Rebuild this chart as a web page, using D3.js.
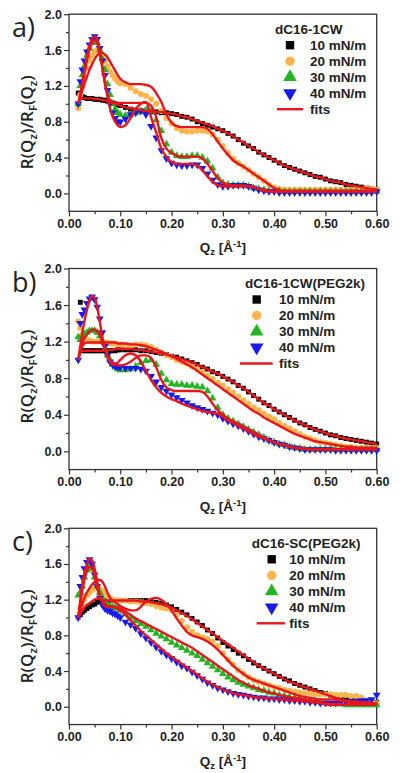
<!DOCTYPE html>
<html><head><meta charset="utf-8">
<script src="https://cdn.jsdelivr.net/npm/d3@7"></script>
<style>
html,body{margin:0;padding:0;background:#fff;}
svg{display:block;}
</style></head>
<body>
<svg id="chart" width="400" height="773"></svg>
<script>
// ---------- DATA ----------
const qz = [0.018,0.022,0.026,0.030,0.035,0.040,0.045,0.050,0.055,0.060,0.065,0.070,0.075,0.080,0.085,0.090,0.095,
  0.10,0.11,0.12,0.13,0.14,0.15,0.16,0.17,0.18,0.19,
  0.20,0.21,0.22,0.23,0.24,0.25,0.26,0.27,0.28,0.29,
  0.30,0.31,0.32,0.33,0.34,0.35,0.36,0.37,0.38,0.39,
  0.40,0.41,0.42,0.43,0.44,0.45,0.46,0.47,0.48,0.49,
  0.50,0.51,0.52,0.53,0.54,0.55,0.56,0.57,0.58,0.59,0.60];

const seriesNames = ["10 mN/m","20 mN/m","30 mN/m","40 mN/m"];
const fitName = "fits";
const panelLabels = ["a)","b)","c)"];
const panelTitles = ["dC16-1CW","dC16-1CW(PEG2k)","dC16-SC(PEG2k)"];
const xTicks = [0,0.1,0.2,0.3,0.4,0.5,0.6];
const yTicks = [0,0.4,0.8,1.2,1.6,2.0];

// panel a) dC16-1CW
const a10 = [1.12,1.10,1.08,1.07,1.06,1.06,1.06,1.05,1.05,1.05,1.04,1.04,1.03,1.02,1.01,1.00,0.99,
  0.98,0.96,0.94,0.93,0.92,0.92,0.91,0.91,0.90,0.90,
  0.89,0.88,0.86,0.85,0.83,0.80,0.78,0.76,0.74,0.72,
  0.70,0.67,0.64,0.60,0.56,0.53,0.50,0.46,0.43,0.40,
  0.37,0.34,0.31,0.29,0.27,0.25,0.23,0.21,0.19,0.18,
  0.16,0.14,0.13,0.12,0.10,0.09,0.08,0.07,0.06,0.05,0.045];
const a10fit = [1.00,1.05,1.06,1.06,1.06,1.06,1.06,1.05,1.05,1.05,1.04,1.04,1.03,1.02,1.01,1.00,0.99,
  0.98,0.96,0.95,0.94,0.93,0.92,0.92,0.91,0.91,0.90,
  0.89,0.88,0.86,0.85,0.83,0.81,0.79,0.77,0.75,0.72,
  0.70,0.67,0.64,0.60,0.57,0.53,0.50,0.46,0.43,0.40,
  0.37,0.34,0.31,0.29,0.27,0.25,0.23,0.21,0.19,0.18,
  0.16,0.14,0.13,0.12,0.10,0.09,0.08,0.07,0.06,0.05,0.045];
const a20 = [0.95,1.10,1.20,1.30,1.40,1.48,1.54,1.58,1.60,1.58,1.54,1.48,1.42,1.36,1.32,1.28,1.25,
  1.23,1.22,1.18,1.14,1.11,1.09,1.05,1.00,0.92,0.84,
  0.78,0.73,0.70,0.69,0.69,0.70,0.70,0.69,0.66,0.60,
  0.53,0.45,0.39,0.34,0.30,0.26,0.22,0.18,0.14,0.10,
  0.07,0.05,0.04,0.04,0.04,0.04,0.04,0.04,0.04,0.04,
  0.04,0.04,0.04,0.04,0.04,0.04,0.05,0.05,0.06,0.05,0.04];
const a20fit = [1.00,1.08,1.15,1.22,1.30,1.38,1.44,1.50,1.54,1.56,1.57,1.55,1.52,1.47,1.42,1.37,1.32,
  1.28,1.24,1.22,1.22,1.22,1.21,1.19,1.12,1.02,0.88,
  0.79,0.75,0.74,0.74,0.74,0.74,0.74,0.72,0.66,0.58,
  0.50,0.43,0.37,0.33,0.30,0.26,0.22,0.18,0.14,0.10,
  0.06,0.04,0.03,0.03,0.03,0.03,0.03,0.03,0.03,0.03,
  0.03,0.03,0.03,0.03,0.03,0.03,0.03,0.03,0.03,0.03,0.03];
const a30 = [1.00,1.20,1.32,1.42,1.54,1.62,1.68,1.70,1.68,1.60,1.50,1.38,1.22,1.10,1.00,0.94,0.90,
  0.88,0.87,0.88,0.90,0.92,0.93,0.92,0.82,0.70,0.55,
  0.46,0.42,0.41,0.41,0.42,0.42,0.40,0.36,0.28,0.18,
  0.12,0.10,0.09,0.09,0.09,0.08,0.06,0.05,0.04,0.03,
  0.03,0.03,0.02,0.02,0.02,0.02,0.02,0.02,0.02,0.02,
  0.02,0.02,0.02,0.02,0.02,0.02,0.02,0.02,0.02,0.02,0.02];
const a30fit = [1.00,1.10,1.22,1.33,1.48,1.60,1.68,1.71,1.68,1.56,1.40,1.22,1.10,1.04,1.02,1.01,1.01,
  1.01,1.01,1.01,1.01,1.01,1.01,0.98,0.85,0.62,0.50,
  0.45,0.42,0.41,0.41,0.41,0.41,0.39,0.33,0.25,0.17,
  0.12,0.10,0.09,0.09,0.09,0.08,0.07,0.05,0.04,0.03,
  0.02,0.02,0.02,0.02,0.02,0.02,0.02,0.02,0.02,0.02,
  0.02,0.02,0.02,0.02,0.02,0.02,0.02,0.02,0.02,0.02,0.02];
const a40 = [1.00,1.25,1.38,1.48,1.58,1.66,1.72,1.75,1.72,1.62,1.48,1.32,1.15,1.00,0.90,0.84,0.80,
  0.80,0.83,0.88,0.90,0.92,0.88,0.75,0.62,0.48,0.39,
  0.34,0.32,0.31,0.31,0.32,0.32,0.28,0.22,0.15,0.10,
  0.08,0.08,0.09,0.09,0.09,0.08,0.06,0.04,0.03,0.02,
  0.02,0.01,0.01,0.01,0.01,0.01,0.01,0.01,0.01,0.01,
  0.01,0.01,0.01,0.01,0.01,0.01,0.01,0.01,0.01,0.01,0.02];
const a40fit = [1.00,1.10,1.25,1.38,1.53,1.65,1.73,1.75,1.72,1.60,1.42,1.25,1.08,0.95,0.86,0.80,0.76,
  0.74,0.76,0.84,0.94,1.00,1.02,0.85,0.68,0.50,0.41,
  0.35,0.33,0.33,0.33,0.33,0.31,0.26,0.19,0.13,0.09,
  0.08,0.08,0.08,0.08,0.08,0.08,0.07,0.05,0.03,0.02,
  0.02,0.02,0.02,0.02,0.02,0.02,0.02,0.02,0.02,0.02,
  0.02,0.02,0.02,0.02,0.02,0.02,0.02,0.02,0.02,0.02,0.02];

// panel b) dC16-1CW(PEG2k)
const b10 = [null,1.63,1.10,1.10,1.10,1.10,1.10,1.10,1.10,1.10,1.10,1.10,1.10,1.10,1.10,1.10,1.11,
  1.11,1.11,1.11,1.11,1.10,1.10,1.09,1.08,1.07,1.06,
  1.04,1.03,1.01,0.99,0.97,0.95,0.92,0.90,0.87,0.85,
  0.82,0.79,0.76,0.72,0.69,0.65,0.61,0.57,0.53,0.50,
  0.46,0.43,0.40,0.37,0.34,0.31,0.29,0.26,0.24,0.22,
  0.20,0.18,0.17,0.15,0.14,0.13,0.12,0.11,0.10,0.09,0.08];
const b10fit = [1.00,1.08,1.10,1.10,1.10,1.10,1.10,1.10,1.10,1.10,1.10,1.10,1.11,1.11,1.11,1.12,1.12,
  1.12,1.12,1.12,1.11,1.11,1.10,1.09,1.08,1.07,1.06,
  1.04,1.03,1.01,0.99,0.97,0.95,0.92,0.90,0.87,0.85,
  0.82,0.79,0.76,0.72,0.69,0.65,0.61,0.57,0.53,0.50,
  0.46,0.43,0.40,0.37,0.34,0.31,0.29,0.26,0.24,0.22,
  0.20,0.18,0.17,0.15,0.14,0.13,0.12,0.11,0.10,0.09,0.08];
const b20 = [1.42,1.35,1.28,1.25,1.22,1.21,1.20,1.20,1.20,1.20,1.20,1.19,1.19,1.18,1.18,1.18,1.17,
  1.17,1.16,1.16,1.17,1.17,1.16,1.14,1.11,1.08,1.05,
  1.03,1.00,0.98,0.96,0.93,0.90,0.87,0.83,0.79,0.75,
  0.72,0.68,0.64,0.60,0.56,0.52,0.48,0.45,0.41,0.38,
  0.35,0.31,0.28,0.25,0.22,0.19,0.16,0.14,0.12,0.10,
  0.09,0.08,0.07,0.06,0.05,0.05,0.04,0.04,0.04,0.04,0.04];
const b20fit = [1.00,1.10,1.15,1.18,1.19,1.19,1.19,1.19,1.19,1.19,1.19,1.19,1.19,1.19,1.19,1.19,1.18,
  1.18,1.18,1.17,1.17,1.16,1.15,1.13,1.11,1.09,1.06,
  1.04,1.01,0.98,0.95,0.92,0.88,0.84,0.80,0.76,0.72,
  0.68,0.64,0.60,0.56,0.52,0.48,0.44,0.41,0.37,0.34,
  0.31,0.28,0.25,0.22,0.19,0.17,0.15,0.13,0.11,0.10,
  0.09,0.08,0.07,0.06,0.05,0.05,0.04,0.04,0.04,0.04,0.04];
const b30 = [1.25,1.22,1.25,1.28,1.30,1.32,1.32,1.32,1.30,1.26,1.20,1.12,1.05,1.00,0.95,0.92,0.90,
  0.89,0.89,0.90,0.93,0.97,0.99,1.00,0.95,0.85,0.78,
  0.74,0.73,0.73,0.72,0.72,0.71,0.70,0.66,0.58,0.48,
  0.40,0.36,0.33,0.30,0.27,0.24,0.21,0.18,0.15,0.12,
  0.10,0.08,0.07,0.05,0.04,0.03,0.02,0.02,0.02,0.02,
  0.02,0.02,0.02,0.02,0.02,0.02,0.02,0.02,0.02,0.02,0.02];
const b30fit = [1.00,1.10,1.18,1.24,1.28,1.31,1.33,1.33,1.31,1.27,1.20,1.12,1.05,1.00,0.97,0.95,0.94,
  0.94,0.95,0.98,1.02,1.05,1.05,1.02,0.92,0.78,0.70,
  0.67,0.66,0.66,0.66,0.66,0.66,0.65,0.60,0.52,0.45,
  0.40,0.36,0.33,0.30,0.27,0.24,0.21,0.18,0.15,0.12,
  0.10,0.08,0.07,0.05,0.04,0.03,0.03,0.02,0.02,0.02,
  0.02,0.02,0.02,0.02,0.02,0.02,0.02,0.02,0.02,0.02,0.02];
const b40 = [1.00,1.40,1.50,1.55,1.62,1.67,1.69,1.66,1.58,1.45,1.30,1.15,1.05,0.98,0.95,0.93,0.92,
  0.92,0.91,0.91,0.91,0.90,0.88,0.82,0.76,0.70,0.66,
  0.62,0.59,0.56,0.53,0.50,0.48,0.46,0.44,0.42,0.40,
  0.36,0.33,0.30,0.28,0.25,0.22,0.19,0.16,0.14,0.12,
  0.10,0.08,0.07,0.05,0.04,0.03,0.02,0.02,0.02,0.02,
  0.02,0.02,0.01,0.01,0.01,0.01,0.01,0.01,0.01,0.01,0.01];
const b40fit = [1.00,1.15,1.30,1.42,1.55,1.65,1.70,1.68,1.58,1.42,1.25,1.12,1.03,0.98,0.95,0.95,0.97,
  1.00,1.05,1.07,1.05,0.98,0.88,0.78,0.70,0.64,0.60,
  0.57,0.55,0.52,0.50,0.48,0.46,0.44,0.43,0.42,0.41,
  0.38,0.34,0.31,0.28,0.25,0.22,0.19,0.16,0.14,0.12,
  0.10,0.08,0.07,0.05,0.04,0.03,0.03,0.02,0.02,0.02,
  0.02,0.02,0.02,0.02,0.02,0.02,0.02,0.02,0.02,0.02,0.02];

// panel c) dC16-SC(PEG2k)
const c10 = [1.00,1.03,1.06,1.08,1.10,1.12,1.14,1.15,1.17,1.18,1.19,1.19,1.19,1.19,1.19,1.19,1.19,
  1.19,1.19,1.19,1.19,1.19,1.19,1.18,1.17,1.16,1.14,
  1.12,1.09,1.06,1.03,0.99,0.95,0.91,0.86,0.82,0.77,
  0.72,0.68,0.64,0.60,0.57,0.53,0.49,0.46,0.43,0.40,
  0.37,0.34,0.31,0.29,0.26,0.24,0.22,0.20,0.18,0.16,
  0.15,0.13,0.12,0.10,0.09,0.08,0.07,0.06,0.06,0.05,0.05];
const c10fit = [1.00,1.04,1.08,1.11,1.14,1.16,1.18,1.20,1.21,1.21,1.20,1.19,1.19,1.19,1.19,1.19,1.19,
  1.19,1.19,1.19,1.19,1.18,1.18,1.17,1.16,1.15,1.13,
  1.11,1.08,1.05,1.02,0.98,0.94,0.90,0.86,0.82,0.78,
  0.74,0.70,0.66,0.62,0.58,0.54,0.50,0.46,0.43,0.40,
  0.37,0.34,0.31,0.28,0.26,0.24,0.22,0.20,0.18,0.16,
  0.14,0.12,0.10,0.08,0.06,0.05,0.04,0.03,0.03,0.03,0.03];
const c20 = [1.00,1.10,1.15,1.20,1.25,1.28,1.31,1.33,1.33,1.32,1.30,1.27,1.24,1.22,1.20,1.19,1.19,
  1.19,1.19,1.18,1.18,1.17,1.16,1.15,1.13,1.11,1.10,
  1.08,1.03,0.96,0.89,0.84,0.80,0.78,0.76,0.73,0.68,
  0.60,0.53,0.47,0.41,0.37,0.33,0.30,0.28,0.26,0.24,
  0.22,0.21,0.19,0.18,0.17,0.16,0.15,0.15,0.14,0.14,
  0.14,0.14,0.13,0.13,0.13,0.12,0.12,0.10,0.07,0.05,0.04];
const c20fit = [1.00,1.08,1.15,1.22,1.28,1.33,1.37,1.40,1.42,1.42,1.40,1.35,1.28,1.22,1.19,1.17,1.15,
  1.13,1.10,1.08,1.08,1.12,1.18,1.21,1.22,1.20,1.15,
  1.08,0.99,0.91,0.84,0.80,0.78,0.76,0.73,0.69,0.64,
  0.58,0.52,0.46,0.41,0.37,0.33,0.30,0.28,0.26,0.24,
  0.22,0.20,0.18,0.16,0.14,0.12,0.11,0.10,0.09,0.08,
  0.08,0.08,0.08,0.07,0.07,0.06,0.06,0.05,0.05,0.04,0.04];
const c30 = [1.25,1.28,1.35,1.45,1.53,1.57,1.55,1.45,1.35,1.28,1.22,1.18,1.15,1.13,1.12,1.11,1.10,
  1.08,1.04,1.00,0.96,0.93,0.90,0.86,0.82,0.79,0.76,
  0.72,0.69,0.66,0.63,0.60,0.57,0.53,0.49,0.45,0.41,
  0.37,0.33,0.30,0.27,0.25,0.23,0.21,0.19,0.18,0.16,
  0.15,0.13,0.12,0.11,0.10,0.09,0.08,0.07,0.06,0.05,
  0.04,0.03,0.03,0.03,0.02,0.02,0.02,0.02,0.02,0.02,0.02];
const c30fit = [1.00,1.15,1.30,1.42,1.52,1.57,1.55,1.45,1.33,1.24,1.18,1.15,1.13,1.12,1.12,1.12,1.11,
  1.10,1.07,1.03,0.99,0.96,0.93,0.90,0.87,0.84,0.81,
  0.78,0.75,0.72,0.69,0.66,0.62,0.58,0.54,0.50,0.46,
  0.42,0.38,0.34,0.30,0.27,0.24,0.22,0.20,0.18,0.16,
  0.15,0.13,0.12,0.11,0.10,0.09,0.08,0.07,0.06,0.05,
  0.04,0.03,0.03,0.03,0.02,0.02,0.02,0.02,0.02,0.02,0.02];
const c40 = [1.00,1.35,1.45,1.55,1.62,1.65,1.60,1.48,1.35,1.22,1.14,1.10,1.08,1.07,1.05,1.04,1.02,
  1.00,0.95,0.92,0.88,0.82,0.77,0.72,0.67,0.62,0.58,
  0.54,0.50,0.46,0.43,0.39,0.35,0.31,0.27,0.24,0.21,
  0.19,0.17,0.15,0.14,0.13,0.12,0.11,0.10,0.10,0.09,
  0.09,0.08,0.08,0.07,0.07,0.06,0.06,0.05,0.05,0.04,
  0.04,0.04,0.04,0.05,0.05,0.06,0.06,0.07,0.07,0.08,0.13];
const c40fit = [1.00,1.20,1.38,1.50,1.60,1.66,1.64,1.55,1.40,1.25,1.17,1.13,1.12,1.12,1.12,1.11,1.10,
  1.08,1.03,0.97,0.91,0.85,0.80,0.75,0.70,0.65,0.60,
  0.56,0.52,0.48,0.44,0.40,0.36,0.32,0.28,0.25,0.22,
  0.19,0.17,0.15,0.14,0.13,0.12,0.11,0.10,0.10,0.09,
  0.09,0.08,0.08,0.07,0.07,0.06,0.06,0.05,0.05,0.04,
  0.03,0.02,0.02,0.02,0.02,0.03,0.03,0.03,0.04,0.04,0.04];

const panelData = [
  {data:[a10,a20,a30,a40], fits:[a10fit,a20fit,a30fit,a40fit]},
  {data:[b10,b20,b30,b40], fits:[b10fit,b20fit,b30fit,b40fit]},
  {data:[c10,c20,c30,c40], fits:[c10fit,c20fit,c30fit,c40fit]}
];

// ---------- STYLE / LAYOUT ----------
const colors = ["#000000","#fbb54c","#22b422","#1a1aeb"];
const fitColor = "#e8161c";
const shapes = [d3.symbolSquare, d3.symbolCircle, d3.symbolTriangle, d3.symbolTriangle];
const rotations = [0,0,0,180];
const markerSizes = [24,28,26,26];
const legendSizes = [70,70,80,80];

const left = 69, right = 376.7;
const layouts = [
  {top:14.2, zero:193.4, legX:{title:275, sym:290, text:310, line:[277,303]}},
  {top:268.5, zero:451.3, legX:{title:245, sym:256.7, text:279, line:[240,272.7]}},
  {top:528.3, zero:706.7, legX:{title:251.7, sym:271.7, text:289.3, line:[256.7,285]}}
];

const svg = d3.select("#chart");
const axisColor = "#333";
const boldFont = "'Liberation Sans', Arial, sans-serif";

layouts.forEach((L, pi) => {
  const y = d3.scaleLinear().domain([0,2.0]).range([L.zero, L.top]);
  const bottom = y(-0.2);
  const x = d3.scaleLinear().domain([0,0.6]).range([left,right]);
  const g = svg.append("g");

  // frame
  g.append("rect").attr("x",left).attr("y",L.top).attr("width",right-left).attr("height",bottom-L.top)
    .attr("fill","none").attr("stroke",axisColor).attr("stroke-width",1.3);

  // axes
  const xAxis = d3.axisBottom(x).tickValues(xTicks).tickFormat(d3.format(".2f")).tickSize(5).tickPadding(3);
  const xMinor = d3.axisBottom(x).tickValues([0.05,0.15,0.25,0.35,0.45,0.55]).tickFormat("").tickSize(3);
  const yAxis = d3.axisLeft(y).tickValues(yTicks).tickFormat(d3.format(".1f")).tickSize(5).tickPadding(2);
  const yMinor = d3.axisLeft(y).tickValues([0.2,0.6,1.0,1.4,1.8]).tickFormat("").tickSize(3);
  [[xAxis,"x"],[xMinor,"x"],[yAxis,"y"],[yMinor,"y"]].forEach(([ax,t]) => {
    const a = g.append("g").attr("transform", t==="x" ? `translate(0,${bottom})` : `translate(${left},0)`).call(ax);
    a.select(".domain").remove();
    a.selectAll("line").attr("stroke",axisColor).attr("stroke-width",1.2);
    a.selectAll("text").attr("font-family",boldFont).attr("font-weight","bold").attr("font-size",12.5).attr("fill","#222");
  });

  // markers
  const pd = panelData[pi];
  pd.data.forEach((vals, si) => {
    const sym = d3.symbol().type(shapes[si]).size(markerSizes[si]);
    const pts = qz.map((q,i)=>[q, vals[i]]).filter(d => d[1] != null);
    g.append("g").selectAll("path").data(pts).join("path")
      .attr("d", sym)
      .attr("transform", d => `translate(${x(d[0])},${y(d[1])}) rotate(${rotations[si]})`)
      .attr("fill", colors[si]);
  });

  // fits
  const line = d3.line().defined(d => d[1] != null).x(d => x(d[0])).y(d => y(d[1])).curve(d3.curveMonotoneX);
  pd.fits.forEach(vals => {
    g.append("path").datum(qz.map((q,i)=>[q, vals[i]]))
      .attr("d", line).attr("fill","none").attr("stroke",fitColor).attr("stroke-width",2.4)
      .attr("stroke-linejoin","round");
  });

  // panel label
  g.append("text").attr("x",12).attr("y",L.top+23).text(panelLabels[pi])
    .attr("font-family","'Open Sans', sans-serif").attr("font-size",27).attr("fill","#222");

  // y title
  const yt = g.append("text").attr("transform",`translate(33,${L.top+108}) rotate(-90)`)
    .attr("text-anchor","middle").attr("font-family","'Open Sans', sans-serif").attr("font-size",17)
    .attr("font-weight",600).attr("fill","#222");
  yt.append("tspan").text("R(Q");
  yt.append("tspan").text("z").attr("font-size",11.5).attr("dy",4);
  yt.append("tspan").text(")/R").attr("dy",-4);
  yt.append("tspan").text("F").attr("font-size",11.5).attr("dy",4);
  yt.append("tspan").text("(Q").attr("dy",-4);
  yt.append("tspan").text("z").attr("font-size",11.5).attr("dy",4);
  yt.append("tspan").text(")").attr("dy",-4);

  // x title
  const xt = g.append("text").attr("x",(left+right)/2).attr("y",bottom+41)
    .attr("text-anchor","middle").attr("font-family",boldFont).attr("font-weight","bold").attr("font-size",13.5).attr("fill","#222");
  xt.append("tspan").text("Q");
  xt.append("tspan").text("z").attr("font-size",9.5).attr("dy",3);
  xt.append("tspan").text(" [Å").attr("dy",-3);
  xt.append("tspan").text("-1").attr("font-size",9.5).attr("dy",-5);
  xt.append("tspan").text("]").attr("dy",5);

  // legend
  const lx = L.legX;
  g.append("text").attr("x",lx.title).attr("y",L.top+15).attr("dy","0.35em").text(panelTitles[pi])
    .attr("font-family",boldFont).attr("font-weight","bold").attr("font-size",13.5).attr("fill","#222");
  seriesNames.forEach((nm, si) => {
    const yy = L.top + 31 + si*16;
    g.append("path").attr("d", d3.symbol().type(shapes[si]).size(legendSizes[si]))
      .attr("transform",`translate(${lx.sym},${yy}) rotate(${rotations[si]})`).attr("fill",colors[si]);
    g.append("text").attr("x",lx.text).attr("y",yy).attr("dy","0.35em").text(nm)
      .attr("font-family",boldFont).attr("font-weight","bold").attr("font-size",13.5).attr("fill","#222");
  });
  const fy = L.top + 31 + 4*16;
  g.append("line").attr("x1",lx.line[0]).attr("x2",lx.line[1]).attr("y1",fy).attr("y2",fy)
    .attr("stroke",fitColor).attr("stroke-width",2.4);
  g.append("text").attr("x",lx.text).attr("y",fy).attr("dy","0.35em").text(fitName)
    .attr("font-family",boldFont).attr("font-weight","bold").attr("font-size",13.5).attr("fill","#222");
});
</script>
</body></html>
